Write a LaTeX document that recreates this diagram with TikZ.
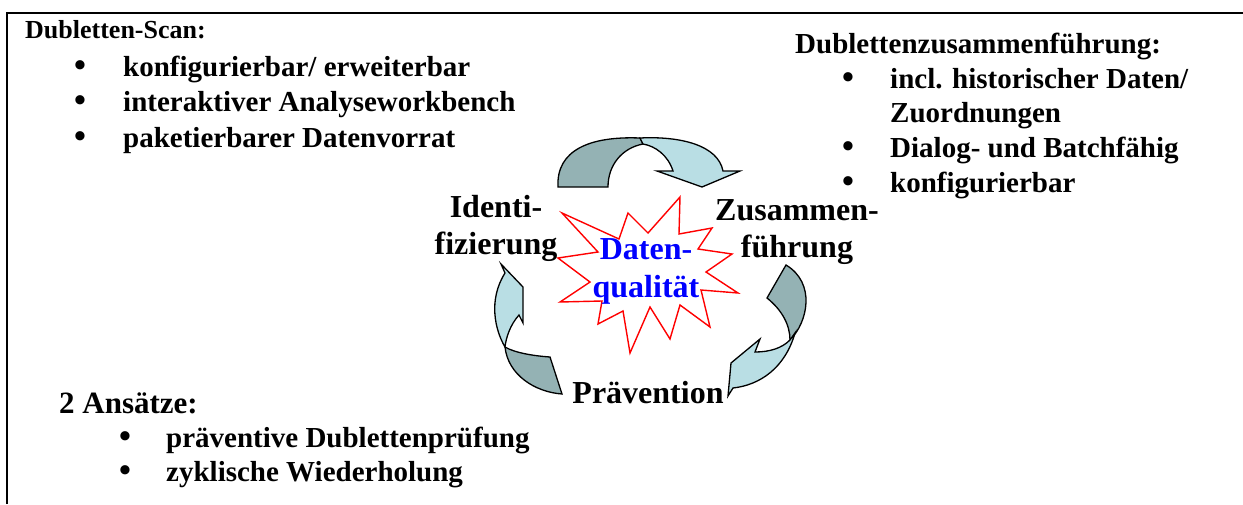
\documentclass[tikz,border=0pt]{standalone}
\usepackage{fontspec}
\setmainfont{Liberation Serif}
\usetikzlibrary{positioning}
\definecolor{bandgrau}{RGB}{148,178,180}
\definecolor{bandblau}{RGB}{185,222,228}
\tikzset{
  rahmen/.style={
    line width=2pt,
    black
  },
  titel/.style={
    anchor=base west,
    inner sep=0pt,
    font=\bfseries\fontsize{26}{32}\selectfont
  },
  eintrag/.style={
    anchor=base west,
    inner sep=0pt,
    font=\bfseries\fontsize{29}{34}\selectfont
  },
  punkt/.style={
    anchor=base,
    inner sep=0pt,
    font=\bfseries\fontsize{34}{34}\selectfont
  },
  phase/.style={
    anchor=base,
    align=center,
    inner sep=0pt,
    font=\bfseries\fontsize{32}{37}\selectfont
  },
  kern/.style={
    phase,
    text=blue,
    font=\bfseries\fontsize{32}{38}\selectfont
  },
  stern/.style={
    draw=red,
    line width=1.4pt,
    line join=miter,
    fill=white
  },
  dunkel/.style={
    draw=black,
    line width=1.3pt,
    fill=bandgrau
  },
  hell/.style={
    draw=black,
    line width=1.3pt,
    fill=bandblau
  }
}

\begin{document}
\begin{tikzpicture}[x=1pt,y=-1pt]
\useasboundingbox (0,0) rectangle (1243,504);
\draw[rahmen] (7,504) -- (7,13) -- (1243,13);

% Dubletten-Scan
\node[titel] (scan) at (25,38) {Dubletten-Scan:};
\foreach \txt [count=\i] in {konfigurierbar/ erweiterbar,interaktiver Analyseworkbench,paketierbarer Datenvorrat}{
  \node[eintrag] (scan\i) at (123,40.5+35.5*\i) {\txt};
  \node[punkt] (scanp\i) at (80,40.5+35.5*\i) {\textbullet};
}

% Zusammenfuehrung
\node[titel,font=\bfseries\fontsize{29}{34}\selectfont] (zsf) at (795,53) {Dublettenzusammenführung:};
\node[eintrag] (zsf1) at (890,88) {incl. historischer Daten/};
\node[eintrag] (zsf2) at (890,122) {Zuordnungen};
\node[eintrag] (zsf3) at (890,157) {Dialog- und Batchfähig};
\node[eintrag] (zsf4) at (890,192) {konfigurierbar};
\node[punkt] (zsfp1) at (848,88) {\textbullet};
\node[punkt] (zsfp3) at (848,157) {\textbullet};
\node[punkt] (zsfp4) at (848,192) {\textbullet};

% Ansaetze
\node[titel,font=\bfseries\fontsize{31}{34}\selectfont] (ans) at (59,413) {2 Ansätze:};
\node[eintrag] (ans1) at (166,447) {präventive Dublettenprüfung};
\node[eintrag] (ans2) at (166,481) {zyklische Wiederholung};
\node[punkt] (ansp1) at (125,447) {\textbullet};
\node[punkt] (ansp2) at (125,481) {\textbullet};

% Kreislauf
\filldraw[dunkel] (558,187) .. controls (556,150) and (590,136) .. (640,138)
  -- (643,144) .. controls (622,148) and (608,165) .. (608,187) -- cycle;
\filldraw[hell] (640,138) .. controls (680,136) and (718,145) .. (723,171)
  -- (740,171) -- (702,187) -- (657,171) -- (673,171)
  .. controls (668,155) and (655,146) .. (643,144) -- cycle;
\filldraw[dunkel] (786,265) -- (767,298) .. controls (782,310) and (790,325) .. (790,340)
  .. controls (808,322) and (816,283) .. (786,265) -- cycle;
\filldraw[hell] (795,333) .. controls (785,368) and (760,385) .. (733,388)
  -- (728,396) -- (731,363) -- (760,339) -- (755,352)
  .. controls (770,352) and (782,348) .. (790,340) -- cycle;
\filldraw[dunkel] (505,347) .. controls (515,353) and (535,356) .. (550,357)
  -- (562,394) .. controls (535,392) and (508,375) .. (505,347) -- cycle;
\filldraw[hell] (501,264) -- (523,287) -- (523,323) -- (519,315)
  .. controls (510,325) and (506,338) .. (505,347)
  .. controls (495,330) and (488,300) .. (505,273) -- cycle;

\filldraw[stern] (680,197) -- (679,234) -- (712,228) -- (698,249) -- (732,254) -- (706,272)
  -- (738,293) -- (701,290) -- (710,327) -- (680,305) -- (670,339) -- (650,307)
  -- (630,353) -- (623,311) -- (598,324) -- (602,301) -- (560,302) -- (590,282)
  -- (558,258) -- (598,252) -- (562,213) -- (619,239) -- (628,213) -- (648,233) -- cycle;

% base = letzte Zeile
\node[phase] (ident) at (496,254) {Identi-\\fizierung};
\node[phase] (zus) at (797,257) {Zusammen-\\führung};
\node[phase] (prae) at (648,403) {Prävention};
\node[kern] (dq) at (646,297) {Daten-\\qualität};
\end{tikzpicture}
\end{document}
